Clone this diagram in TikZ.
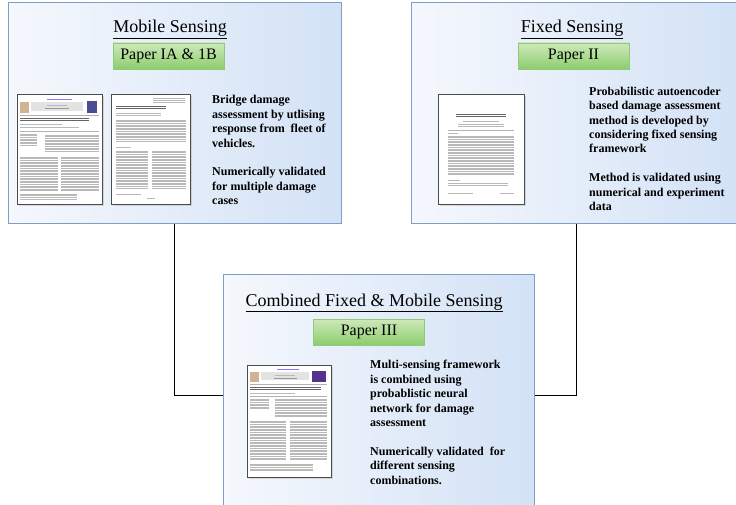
\documentclass[tikz,border=0pt]{standalone}
\usepackage{fontspec}
\setmainfont{Liberation Serif}
\usetikzlibrary{shadows}

\definecolor{panelleft}{HTML}{F5F8FD}
\definecolor{panelright}{HTML}{D3E2F6}
\definecolor{panelline}{HTML}{7F9DCB}
\definecolor{greentop}{HTML}{CDE9BA}
\definecolor{greenbottom}{HTML}{8DCD6D}
\definecolor{greenline}{HTML}{93C77D}

\tikzset{
  panel/.style={draw=panelline, line width=1pt, left color=panelleft, right color=panelright},
  heading/.style={anchor=base, inner sep=0, font=\fontsize{18}{20}\selectfont},
  paperlabel/.style={draw=greenline, line width=0.8pt, top color=greentop, bottom color=greenbottom,
    minimum width=111, minimum height=26, inner sep=0, font=\fontsize{16}{18}\selectfont},
  note/.style={anchor=north west, align=left, inner sep=0, font=\bfseries\fontsize{12}{14.4}\selectfont},
  thumb/.style={draw=black!70, line width=1.2pt, fill=white, anchor=north west, inner sep=0,
    drop shadow={shadow xshift=1.2pt, shadow yshift=-1.2pt, opacity=0.25}},
  txt/.style={gray!55, line width=0.55pt},
  rule/.style={gray!60, line width=0.3pt},
  link/.style={draw=black, line width=0.8pt}
}

\begin{document}
\begin{tikzpicture}[x=1pt,y=-1pt]
  \useasboundingbox (0,0) rectangle (736,505);
  \clip (0,0) rectangle (736,505);

  % three panels
  \node[panel, minimum width=333, minimum height=221] (mobile) at (174.5,113.5) {};
  \node[panel, minimum width=330, minimum height=221] (fixed) at (576,113.5) {};
  \node[panel, minimum width=311, minimum height=242] (combined) at (378.5,395) {};

  \draw[link] (mobile.south) |- (combined.west);
  \draw[link] (fixed.south) |- (combined.east);

  % headings and paper labels
  \node[heading] (mobiletitle) at (170,33) {\underline{Mobile Sensing}};
  \node[paperlabel] (paperI) at (168.5,56) {Paper IA \& 1B};
  \node[heading] (fixedtitle) at (572,33) {\underline{Fixed Sensing}};
  \node[paperlabel] (paperII) at (573.5,56) {Paper II};
  \node[heading] (combinedtitle) at (374,306) {\underline{Combined Fixed \& Mobile Sensing}};
  \node[paperlabel] (paperIII) at (369,332) {Paper III};

  % descriptions
  \node[note] (mobiletext) at (212,95.3) {Bridge damage\\ assessment by utlising\\ response from~ fleet of\\ vehicles.\\[14.4pt] Numerically validated\\ for multiple damage\\ cases};
  \node[note] (fixedtext) at (589,86.7) {Probabilistic autoencoder\\ based damage assessment\\ method is developed by\\ considering fixed sensing\\ framework\\[14.4pt] Method is validated using\\ numerical and experiment\\ data};
  \node[note] (combinedtext) at (370,360.3) {Multi-sensing framework\\ is combined using\\ probablistic neural\\ network for damage\\ assessment\\[14.4pt] Numerically validated~ for\\ different sensing\\ combinations.};

  % paper IA first page
  \node[thumb, minimum width=85, minimum height=110] (pageIA) at (17,94) {};
  \begin{scope}[shift={(pageIA.north west)}]
    \draw[txt, blue!50] (30,5) -- (55,5);
    \fill[gray!22] (14,8) rectangle (66,17);
    \draw[txt] (30,11) -- (50,11);
    \draw[txt, gray!80, line width=0.8pt] (28,14) -- (52,14);
    \fill[orange!40!gray!60] (3,8) rectangle (12,19);
    \fill[blue!40!black!70] (70,7) rectangle (80,19);
    \draw[rule] (3,21) -- (82,21);
    \foreach \y in {24,26.5} \draw[txt, black!60] (3,\y) -- (72,\y);
    \draw[txt] (3,30) -- (45,30);
    \draw[txt] (3,33) -- (62,33);
    \draw[rule] (3,37) -- (82,37);
    \foreach \y in {40,41.6,...,52} \draw[txt] (3,\y) -- (20,\y);
    \foreach \y in {41,42.6,...,58} \draw[txt] (28,\y) -- (82,\y);
    \foreach \y in {63,64.6,...,97} {\draw[txt] (3,\y) -- (41,\y); \draw[txt] (44,\y) -- (82,\y);}
    \foreach \y in {100,101.6,...,106} \draw[txt] (3,\y) -- (60,\y);
  \end{scope}

  % paper IB first page
  \node[thumb, minimum width=79, minimum height=110] (pageIB) at (111,94) {};
  \begin{scope}[shift={(pageIB.north west)}]
    \foreach \y in {4,6,8} \draw[txt] (42,\y) -- (74,\y);
    \foreach \y in {12,14.5} \draw[txt, black!60] (5,\y) -- (55,\y);
    \foreach \y in {19,21} \draw[txt] (5,\y) -- (50,\y);
    \foreach \y in {26,27.6,...,48} \draw[txt] (5,\y) -- (75,\y);
    \draw[txt] (5,53) -- (20,53);
    \foreach \y in {57,58.6,...,95} {\draw[txt] (5,\y) -- (37,\y); \draw[txt] (41,\y) -- (75,\y);}
    \draw[txt] (5,100) -- (30,100);
    \draw[txt] (36,104) -- (44,104);
  \end{scope}

  % paper II first page
  \node[thumb, minimum width=86, minimum height=110] (pageII) at (438,94) {};
  \begin{scope}[shift={(pageII.north west)}]
    \foreach \y in {20,22.5} \draw[txt, black!60] (18,\y) -- (68,\y);
    \draw[txt] (25,27) -- (61,27);
    \foreach \y in {30,32} \draw[txt] (20,\y) -- (66,\y);
    \draw[rule] (10,36) -- (76,36);
    \draw[txt] (10,39) -- (20,39);
    \foreach \y in {42,43.6,...,82} \draw[txt] (10,\y) -- (76,\y);
    \draw[txt] (10,86) -- (22,86);
    \foreach \y in {89,91} \draw[txt] (10,\y) -- (70,\y);
    \draw[txt] (10,99) -- (35,99);
    \draw[txt] (62,99) -- (76,99);
  \end{scope}

  % paper III first page
  \node[thumb, minimum width=84, minimum height=112] (pageIII) at (247,365) {};
  \begin{scope}[shift={(pageIII.north west)}]
    \draw[txt, blue!50] (30,4) -- (52,4);
    \fill[gray!22] (14,7) rectangle (62,15);
    \draw[txt] (28,10) -- (48,10);
    \draw[txt, gray!80, line width=0.8pt] (27,13) -- (50,13);
    \fill[orange!40!gray!60] (3,7) rectangle (12,17);
    \fill[blue!45!violet!60!black!80] (65,6) rectangle (79,17);
    \draw[rule] (3,19) -- (80,19);
    \foreach \y in {22,24.5} \draw[txt, black!60] (3,\y) -- (74,\y);
    \draw[txt] (3,28) -- (48,28);
    \draw[rule] (3,31) -- (80,31);
    \foreach \y in {34,35.6,...,45} \draw[txt] (3,\y) -- (22,\y);
    \foreach \y in {34,35.6,...,52} \draw[txt] (28,\y) -- (80,\y);
    \foreach \y in {56,57.6,...,95} {\draw[txt] (3,\y) -- (39,\y); \draw[txt] (43,\y) -- (80,\y);}
    \foreach \y in {99,100.6,...,106} \draw[txt] (3,\y) -- (66,\y);
  \end{scope}
\end{tikzpicture}
\end{document}
